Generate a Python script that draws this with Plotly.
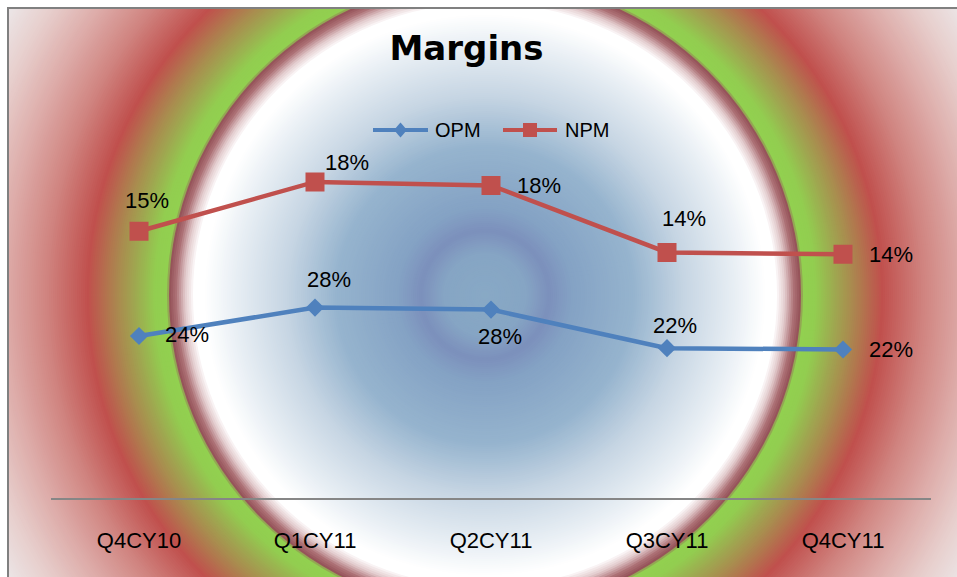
import plotly.graph_objects as go

# ---------------- data ----------------
categories = ["Q4CY10", "Q1CY11", "Q2CY11", "Q3CY11", "Q4CY11"]
opm = [23.9, 28.1, 27.8, 22.1, 21.9]   # operating profit margin, %
npm = [15.1, 17.9, 17.7, 13.9, 13.8]   # net profit margin, %
series_names = ["OPM", "NPM"]

# ---------------- styling ----------------
W, H = 957, 577
BLUE = "#4f81bd"
RED = "#c0504d"
FONT = "Liberation Sans"

# label offsets in pixels (xshift, yshift-up) per point
opm_label_shift = [(48, 1), (14, 28), (9, -27), (8, 23), (48, 0)]
npm_label_shift = [(8, 31), (32, 19), (48, 0), (17, 34), (48, 0)]

# radial background gradient (radius px -> rgb)
CX, CY = 485, 295
stops = [
    (0, (136, 169, 197)),
    (42, (134, 165, 196)),
    (65, (124, 144, 188)),
    (88, (132, 162, 196)),
    (150, (150, 180, 206)),
    (200, (198, 213, 227)),
    (248, (230, 237, 243)),
    (282, (255, 255, 255)),
    (292, (255, 255, 255)),
    (301, (226, 202, 204)),
    (310, (172, 112, 117)),
    (316, (150, 84, 90)),
    (319, (146, 208, 80)),
    (331, (146, 206, 80)),
    (350, (158, 170, 80)),
    (368, (170, 138, 79)),
    (398, (192, 80, 77)),
    (440, (208, 132, 128)),
    (480, (221, 171, 168)),
    (520, (231, 206, 204)),
    (566, (237, 236, 238)),
]


def grad(r):
    for (r0, c0), (r1, c1) in zip(stops[:-1], stops[1:]):
        if r0 <= r <= r1:
            t = (r - r0) / (r1 - r0)
            return "rgb(%d,%d,%d)" % tuple(round(a + (b - a) * t) for a, b in zip(c0, c1))
    return "rgb(%d,%d,%d)" % stops[-1][1]


shapes = []
for r in range(566, 0, -2):
    shapes.append(dict(
        type="circle", xref="paper", yref="paper",
        xsizemode="pixel", ysizemode="pixel",
        xanchor=CX / W, yanchor=1 - CY / H,
        x0=-r, x1=r, y0=-r, y1=r,
        fillcolor=grad(r), line=dict(width=0), layer="below",
    ))
# white outer margin and gray frame
shapes.append(dict(type="rect", xref="paper", yref="paper", x0=0, x1=7 / W, y0=0, y1=1,
                   fillcolor="white", line=dict(width=0), layer="below"))
shapes.append(dict(type="rect", xref="paper", yref="paper", x0=0, x1=1, y0=1 - 7 / H, y1=1,
                   fillcolor="white", line=dict(width=0), layer="below"))
shapes.append(dict(type="line", xref="paper", yref="paper", x0=8 / W, x1=8 / W, y0=0, y1=1 - 7 / H,
                   line=dict(color="#808080", width=2), layer="below"))
shapes.append(dict(type="line", xref="paper", yref="paper", x0=7 / W, x1=1, y0=1 - 8 / H, y1=1 - 8 / H,
                   line=dict(color="#808080", width=2), layer="below"))

# ---------------- custom legend (line + marker + text) ----------------
LEG_Y = 1 - 130 / H
legend_items = [  # (line x0, line x1, text x) in px
    (373, 428, 433),
    (503, 557, 563),
]
legend_colors = [BLUE, RED]
annotations = []
for (lx0, lx1, tx), col, name in zip(legend_items, legend_colors, series_names):
    shapes.append(dict(type="line", xref="paper", yref="paper", x0=lx0 / W, x1=lx1 / W,
                       y0=LEG_Y, y1=LEG_Y, line=dict(color=col, width=4)))
    cx = (lx0 + lx1) / 2 / W
    if name == "OPM":
        path = "M -6.5 0 L 0 7.5 L 6.5 0 L 0 -7.5 Z"
    else:
        path = "M -7 -7 L 7 -7 L 7 7 L -7 7 Z"
    shapes.append(dict(type="path", xref="paper", yref="paper", xsizemode="pixel", ysizemode="pixel",
                       xanchor=cx, yanchor=LEG_Y, path=path, fillcolor=col, line=dict(width=0)))
    annotations.append(dict(x=tx / W, y=LEG_Y, xref="paper", yref="paper", text=name,
                            xanchor="left", yanchor="middle", showarrow=False,
                            font=dict(family=FONT, size=20, color="#000000")))

fig = go.Figure()
fig.add_trace(go.Scatter(
    x=categories, y=opm, name="OPM", mode="lines+markers", yaxis="y",
    line=dict(color=BLUE, width=4.5),
    marker=dict(symbol="diamond", size=14, color=BLUE),
    hoverinfo="skip", showlegend=False,
))
fig.add_trace(go.Scatter(
    x=categories, y=npm, name="NPM", mode="lines+markers", yaxis="y2",
    line=dict(color=RED, width=4.5),
    marker=dict(symbol="square", size=19, color=RED),
    hoverinfo="skip", showlegend=False,
))

for cat, v, (dx, dy) in zip(categories, opm, opm_label_shift):
    annotations.append(dict(x=cat, y=v, xref="x", yref="y", text=f"{round(v)}%",
                            showarrow=False, xshift=dx, yshift=dy,
                            font=dict(family=FONT, size=22, color="#000000")))
for cat, v, (dx, dy) in zip(categories, npm, npm_label_shift):
    annotations.append(dict(x=cat, y=v, xref="x", yref="y2", text=f"{round(v)}%",
                            showarrow=False, xshift=dx, yshift=dy,
                            font=dict(family=FONT, size=22, color="#000000")))

fig.update_layout(
    width=W, height=H,
    margin=dict(l=0, r=0, t=0, b=0),
    paper_bgcolor="white",
    plot_bgcolor="rgba(0,0,0,0)",
    title=dict(text="<b>Margins</b>", x=466.5 / W, xanchor="center",
               y=1 - 48.5 / H, yanchor="middle", yref="paper",
               font=dict(family="DejaVu Sans", size=34, color="#000000")),
    xaxis=dict(domain=[51 / W, 931 / W], type="category", range=[-0.5, 4.5],
               showline=True, linecolor="#868686", linewidth=2,
               showgrid=False, zeroline=False, ticks="", ticklabelstandoff=22,
               tickfont=dict(family=FONT, size=22, color="#000000")),
    yaxis=dict(domain=[1 - 497.5 / H, 1 - 92 / H], range=[0, 60], visible=False),
    yaxis2=dict(domain=[1 - 497.5 / H, 1 - 92 / H], range=[0, 23], visible=False,
                overlaying="y", side="right"),
    shapes=shapes,
    annotations=annotations,
    showlegend=False,
)

fig.write_html("out.html")
